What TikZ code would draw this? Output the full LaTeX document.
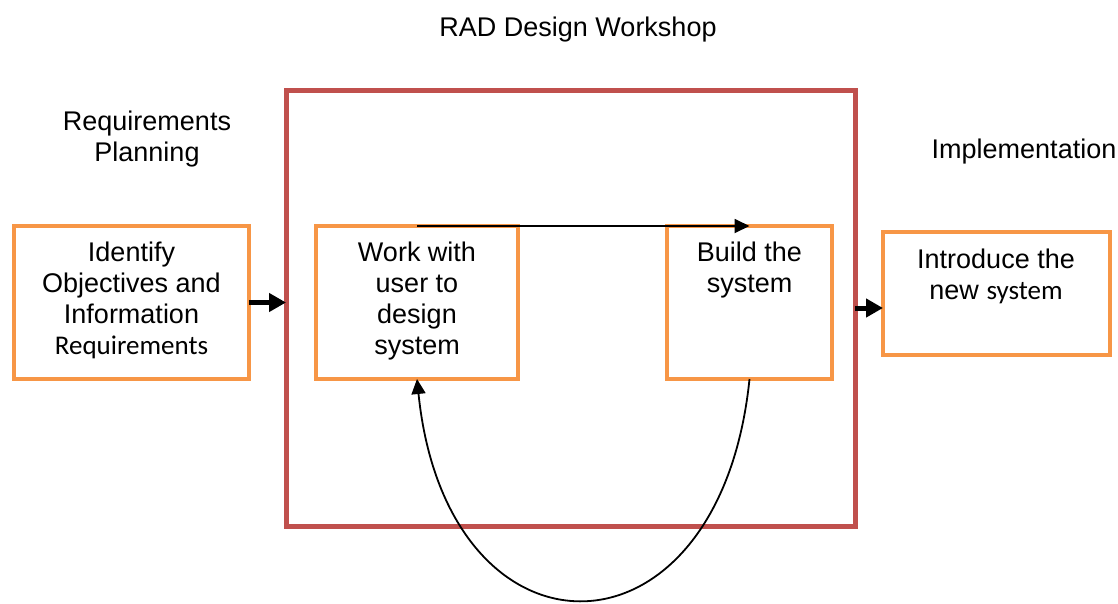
\documentclass[tikz,border=0pt]{standalone}
\usepackage{fontspec}
\setmainfont{Liberation Sans}
\newfontfamily\calib{Carlito}
\usetikzlibrary{arrows.meta}
\definecolor{boxorange}{HTML}{F79646}
\definecolor{boxred}{HTML}{C0504D}
\newcommand{\calibtxt}[1]{{\calib\fontsize{27}{31}\selectfont #1}}
\tikzset{
  x=1pt, y=-1pt,
  every node/.style={inner sep=0pt, outer sep=0pt},
  obox/.style={draw=boxorange, line width=4.5pt, fill=white},
  rbox/.style={draw=boxred, line width=5pt},
  txt/.style={font=\fontsize{27}{31}\selectfont, align=center, anchor=north},
  thick arrow/.style={line width=5pt, -{Triangle[length=17pt,width=18pt]}},
  thin arrow/.style={line width=1.8pt, -{Triangle[length=15pt,width=14pt]}},
}
\begin{document}
\begin{tikzpicture}
\useasboundingbox (0,0) rectangle (1118,603);
% boxes
\node[rbox, minimum width=569pt, minimum height=436pt] (red) at (570.5,308) {};
\node[obox, minimum width=235pt, minimum height=153pt] (b1) at (131.5,302.5) {};
\node[obox, minimum width=202pt, minimum height=153pt] (b2) at (417,302.5) {};
\node[obox, minimum width=165pt, minimum height=153pt] (b3) at (749.5,302.5) {};
\node[obox, minimum width=227pt, minimum height=123pt] (b4) at (996.5,293.5) {};
% texts
\node[txt] (t1) at (131.5,242) {Identify\\Objectives and\\Information\\\calibtxt{Requirements}};
\node[txt] (t2) at (417,242) {Work with\\user to\\design\\system};
\node[txt] (t3) at (749.5,242) {Build the\\system};
\node[txt] (t4) at (996,249) {Introduce the\\new \calibtxt{system}};
\node[txt] (title) at (578,17) {RAD Design Workshop};
\node[txt] (req) at (147,111) {Requirements\\Planning};
\node[txt] (impl) at (1024,139) {Implementation};
% connectors
\draw[thick arrow] (b1.east) -- (red.west |- b1.east);
\draw[thick arrow] (red.east) -- (b4.west |- red.east);
\draw[thin arrow] (b2.north) -- (b3.north);
\draw[thin arrow] (b3.south) .. controls +(-30,294) and +(30,294) .. (b2.south);
\end{tikzpicture}
\end{document}
